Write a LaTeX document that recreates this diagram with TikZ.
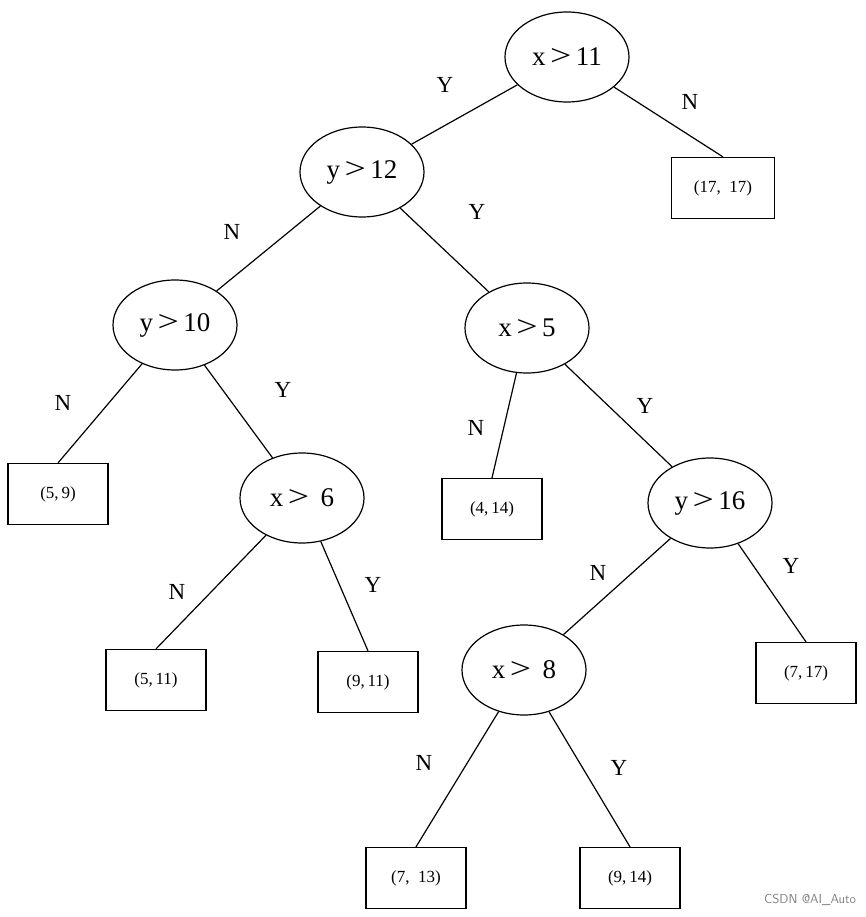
\documentclass[tikz,border=0pt]{standalone}
\usepackage{fontspec}
\setmainfont{Liberation Serif}
\usetikzlibrary{shapes.geometric}
\newcommand{\gt}{\,\scalebox{1.4}[1.1]{>}\,}
\begin{document}
\begin{tikzpicture}[x=1pt,y=-1pt,line width=1.2pt,
  dec/.style={draw,ellipse,minimum width=124pt,minimum height=90pt,inner sep=0pt,font=\fontsize{27}{30}\selectfont},
  leaf/.style={draw,rectangle,minimum width=100pt,minimum height=61pt,inner sep=0pt,font=\fontsize{17}{20}\selectfont},
  lab/.style={font=\fontsize{23}{26}\selectfont},
  edge/.style={draw}]
\useasboundingbox (0,0) rectangle (865,917);
\node[dec] (a) at (567,57) {x\gt11};
\node[dec] (b) at (362,172) {y\gt12};
\node[dec] (c) at (175,325) {y\gt10};
\node[dec] (d) at (527,328) {x\gt5};
\node[dec] (e) at (302,498) {x\gt\ 6};
\node[dec] (f) at (710,503) {y\gt16};
\node[dec] (g) at (524,670) {x\gt\ 8};
\node[leaf,minimum width=103pt] (l1) at (723,188) {(17,\ \ 17)};
\node[leaf] (l2) at (58,494) {(5,\,9)};
\node[leaf] (l3) at (492,509) {(4,\,14)};
\node[leaf] (l4) at (156,680) {(5,\,11)};
\node[leaf] (l5) at (368,682) {(9,\,11)};
\node[leaf] (l6) at (806,673) {(7,\,17)};
\node[leaf] (l7) at (416,878) {(7,\ \ 13)};
\node[leaf] (l8) at (630,878) {(9,\,14)};
\path[edge] (a) -- (b);
\path[edge] (a) -- (l1.north);
\path[edge] (b) -- (c);
\path[edge] (b) -- (d);
\path[edge] (c) -- (l2.north);
\path[edge] (c) -- (e);
\path[edge] (d) -- (l3.north);
\path[edge] (d) -- (f);
\path[edge] (e) -- (l4.north);
\path[edge] (e) -- (l5.north);
\path[edge] (f) -- (g);
\path[edge] (f) -- (l6.north);
\path[edge] (g) -- (l7.north);
\path[edge] (g) -- (l8.north);
\node[lab] (t1) at (445,85) {Y};
\node[lab] (t2) at (690,102) {N};
\node[lab] (t3) at (232,232) {N};
\node[lab] (t4) at (477,212) {Y};
\node[lab] (t5) at (63,403) {N};
\node[lab] (t6) at (283,390) {Y};
\node[lab] (t7) at (476,428) {N};
\node[lab] (t8) at (645,406) {Y};
\node[lab] (t9) at (177,592) {N};
\node[lab] (t10) at (373,585) {Y};
\node[lab] (t11) at (598,573) {N};
\node[lab] (t12) at (791,566) {Y};
\node[lab] (t13) at (424,763) {N};
\node[lab] (t14) at (619,768) {Y};
\node[font=\fontsize{13}{15}\selectfont\sffamily,text=gray,anchor=east] (wm) at (860,900) {CSDN @AI\_Auto};
\end{tikzpicture}
\end{document}
